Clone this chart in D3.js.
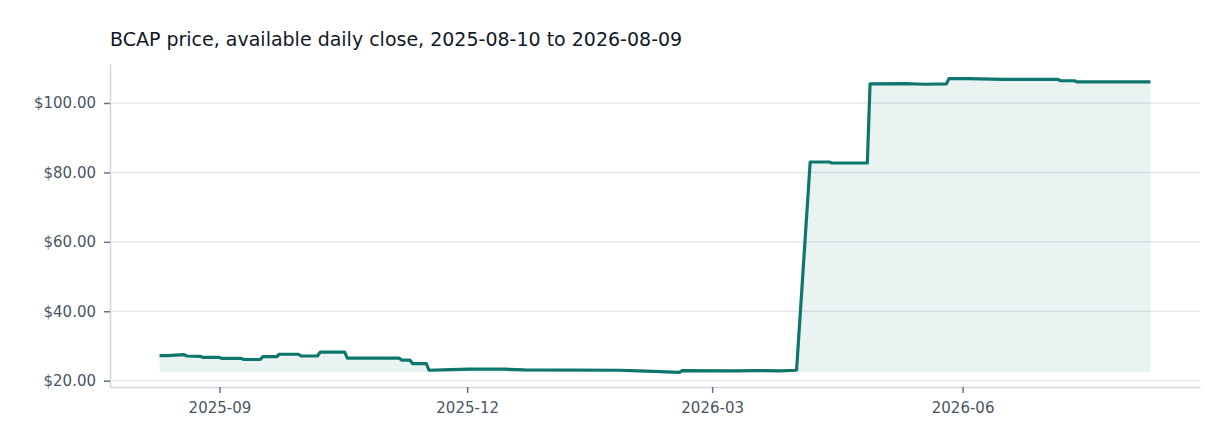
<!doctype html>
<html>
<head>
<meta charset="UTF-8">
<title>BCAP price</title>
<script src="https://cdn.jsdelivr.net/npm/d3@7"></script>
<style>
  body { margin: 0; background: #fff; }
  * { font-family: "DejaVu Sans", sans-serif; }
</style>
</head>
<body>
<svg id="chart" width="1232" height="448"></svg>
<script>
// close prices at the days where the level changes
var dates = [
  "2025-08-10", "2025-08-13", "2025-08-19", "2025-08-20", "2025-08-25", "2025-08-26",
  "2025-09-01", "2025-09-02", "2025-09-09", "2025-09-10", "2025-09-16", "2025-09-17",
  "2025-09-22", "2025-09-23", "2025-09-30", "2025-10-01", "2025-10-07", "2025-10-08",
  "2025-10-17", "2025-10-18", "2025-11-06", "2025-11-07", "2025-11-10", "2025-11-11",
  "2025-11-16", "2025-11-17", "2025-11-25", "2025-12-02", "2025-12-15", "2025-12-22",
  "2026-01-26", "2026-02-02", "2026-02-10", "2026-02-17", "2026-02-18", "2026-03-09",
  "2026-03-17", "2026-03-26", "2026-04-01", "2026-04-06", "2026-04-13", "2026-04-14",
  "2026-04-27", "2026-04-28", "2026-05-11", "2026-05-18", "2026-05-26", "2026-05-27",
  "2026-06-03", "2026-06-16", "2026-07-06", "2026-07-07", "2026-07-12", "2026-07-13",
  "2026-08-09"
];
var closes = [
  27.2, 27.2, 27.5, 27.1, 27.0, 26.7,
  26.7, 26.4, 26.4, 26.1, 26.1, 26.9,
  26.9, 27.6, 27.6, 27.1, 27.1, 28.2,
  28.2, 26.5, 26.5, 25.9, 25.9, 24.9,
  24.9, 23.0, 23.2, 23.3, 23.3, 23.1,
  23.0, 22.8, 22.6, 22.4, 22.9, 22.8,
  22.9, 22.8, 23.0, 83.0, 83.0, 82.7,
  82.7, 105.5, 105.6, 105.4, 105.5, 107.0,
  107.0, 106.8, 106.8, 106.4, 106.4, 106.1,
  106.1
];
var yTicks = [20, 40, 60, 80, 100];
var xTicks = ["2025-09-01", "2025-12-01", "2026-03-01", "2026-06-01"];
var title = "BCAP price, available daily close, 2025-08-10 to 2026-08-09";

var parse = d3.timeParse("%Y-%m-%d");
var data = dates.map(function(d, i) { return { date: parse(d), close: closes[i] }; });

var margin = { top: 64, right: 32, bottom: 61, left: 110 };
var width = 1232, height = 448;
var svg = d3.select("#chart");

var xExt = d3.extent(data, function(d) { return d.date; });
var xPad = (xExt[1] - xExt[0]) * 0.05;
var x = d3.scaleTime()
  .domain([new Date(+xExt[0] - xPad), new Date(+xExt[1] + xPad)])
  .range([margin.left, width - margin.right]);

var yMin = d3.min(closes), yMax = d3.max(closes);
var yPad = (yMax - yMin) * 0.05;
var y = d3.scaleLinear()
  .domain([yMin - yPad, yMax + yPad])
  .range([height - margin.bottom, margin.top]);

// grid
svg.append("g")
  .selectAll("line")
  .data(yTicks)
  .enter().append("line")
    .attr("x1", margin.left)
    .attr("x2", width - margin.right)
    .attr("y1", function(d) { return y(d); })
    .attr("y2", function(d) { return y(d); })
    .attr("stroke", "#e5e7eb")
    .attr("stroke-width", 1.5);

// area + line
svg.append("path")
  .datum(data)
  .attr("fill", "#0f766e")
  .attr("fill-opacity", 0.09)
  .attr("d", d3.area()
    .x(function(d) { return x(d.date); })
    .y0(y(yMin))
    .y1(function(d) { return y(d.close); }));

svg.append("path")
  .datum(data)
  .attr("fill", "none")
  .attr("stroke", "#0f766e")
  .attr("stroke-width", 3.2)
  .attr("stroke-linejoin", "round")
  .attr("d", d3.line()
    .x(function(d) { return x(d.date); })
    .y(function(d) { return y(d.close); }));

// axes
var yAxis = svg.append("g")
  .attr("transform", "translate(" + margin.left + ",0)")
  .call(d3.axisLeft(y).tickValues(yTicks).tickSizeInner(6).tickSizeOuter(0).tickPadding(8)
    .tickFormat(function(d) { return "$" + d3.format(".2f")(d); }));
var xAxis = svg.append("g")
  .attr("transform", "translate(0," + (height - margin.bottom) + ")")
  .call(d3.axisBottom(x).tickValues(xTicks.map(parse)).tickSizeInner(6).tickSizeOuter(0).tickPadding(9)
    .tickFormat(d3.timeFormat("%Y-%m")));

[yAxis, xAxis].forEach(function(a) {
  a.attr("font-size", 15).attr("font-family", "DejaVu Sans, sans-serif");
  a.select(".domain").attr("stroke", "#d1d5db").attr("stroke-width", 1.5);
  a.selectAll(".tick line").attr("stroke", "#64748b").attr("stroke-width", 1.5);
  a.selectAll(".tick text").attr("fill", "#4b5563");
});

svg.append("text")
  .attr("x", margin.left)
  .attr("y", 46)
  .attr("fill", "#111827")
  .attr("font-size", 19)
  .attr("font-family", "DejaVu Sans, sans-serif")
  .text(title);
</script>
</body>
</html>
